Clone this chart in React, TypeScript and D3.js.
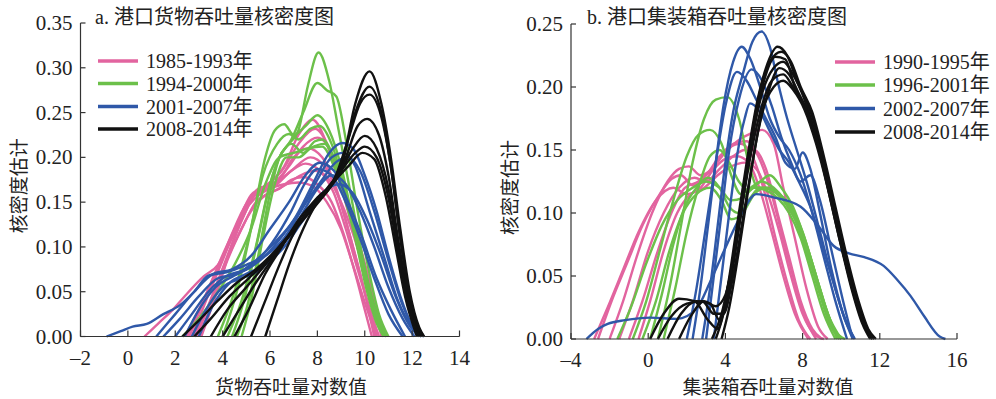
import React from "react";
import * as d3 from "d3";

type Pt = [number, number];

// ---------- Panel a: cargo throughput (log) kernel densities ----------
const cargoPink: Pt[][] = [
  [[2.9,0],[3.5,0.04],[4.2,0.09],[4.8,0.13],[5.4,0.16],[6.0,0.172],[6.6,0.19],[7.2,0.225],[7.8,0.242],[8.4,0.215],[8.9,0.175],[9.4,0.13],[9.9,0.08],[10.3,0.04],[10.8,0]],
  [[2.6,0],[3.2,0.04],[3.9,0.085],[4.6,0.125],[5.2,0.158],[5.8,0.168],[6.5,0.185],[7.2,0.215],[7.9,0.232],[8.5,0.21],[9.0,0.17],[9.5,0.125],[10.0,0.075],[10.4,0.035],[10.7,0]],
  [[3.1,0],[3.7,0.045],[4.3,0.095],[4.9,0.135],[5.5,0.165],[6.1,0.17],[6.8,0.19],[7.4,0.212],[8.0,0.222],[8.6,0.205],[9.1,0.165],[9.6,0.12],[10.1,0.072],[10.5,0.03],[10.9,0]],
  [[2.7,0],[3.3,0.04],[4.0,0.085],[4.6,0.125],[5.2,0.155],[5.8,0.165],[6.4,0.175],[7.0,0.2],[7.6,0.21],[8.2,0.2],[8.8,0.165],[9.3,0.12],[9.8,0.07],[10.2,0.03],[10.5,0]],
  [[0.7,0],[1.3,0.015],[1.9,0.03],[2.4,0.045],[3.2,0.067],[3.8,0.08],[4.4,0.11],[5.0,0.145],[5.6,0.165],[6.2,0.17],[6.9,0.185],[7.7,0.2],[8.3,0.19],[8.9,0.155],[9.4,0.11],[9.9,0.06],[10.4,0]],
  [[2.5,0],[3.1,0.035],[3.8,0.075],[4.4,0.115],[5.0,0.148],[5.6,0.162],[6.2,0.168],[6.9,0.185],[7.5,0.193],[8.1,0.185],[8.7,0.16],[9.2,0.12],[9.7,0.075],[10.2,0.032],[10.6,0]],
  [[3.0,0],[3.6,0.04],[4.2,0.085],[4.8,0.12],[5.4,0.15],[6.0,0.16],[6.7,0.17],[7.3,0.18],[7.9,0.185],[8.5,0.175],[9.0,0.15],[9.5,0.115],[10.0,0.07],[10.4,0.03],[10.8,0]],
  [[2.8,0],[3.4,0.035],[4.0,0.075],[4.6,0.11],[5.2,0.14],[5.8,0.158],[6.4,0.165],[6.9,0.175],[7.4,0.178],[8.0,0.17],[8.6,0.15],[9.1,0.115],[9.6,0.07],[10.0,0.03],[10.3,0]],
  [[2.4,0],[3.0,0.03],[3.6,0.065],[4.2,0.1],[4.8,0.135],[5.4,0.155],[6.0,0.165],[6.6,0.17],[7.2,0.172],[7.8,0.168],[8.4,0.15],[9.0,0.12],[9.5,0.08],[10.0,0.038],[10.5,0]],
];
const cargoGreen: Pt[][] = [
  [[4.6,0],[5.0,0.03],[5.5,0.09],[6.0,0.16],[6.4,0.2],[6.8,0.215],[7.2,0.23],[7.6,0.28],[8.05,0.317],[8.5,0.285],[8.9,0.23],[9.4,0.16],[9.9,0.09],[10.4,0.035],[10.9,0]],
  [[4.2,0],[4.8,0.04],[5.4,0.1],[5.9,0.16],[6.4,0.2],[6.9,0.22],[7.4,0.25],[8.0,0.283],[8.4,0.275],[8.8,0.268],[9.2,0.22],[9.7,0.14],[10.2,0.07],[10.6,0.025],[11.0,0]],
  [[4.0,0],[4.6,0.05],[5.2,0.12],[5.8,0.2],[6.2,0.23],[6.6,0.237],[7.0,0.225],[7.5,0.235],[8.0,0.247],[8.5,0.23],[9.0,0.19],[9.5,0.13],[10.0,0.07],[10.5,0.02],[10.8,0]],
  [[3.8,0],[4.5,0.05],[5.1,0.11],[5.7,0.18],[6.3,0.215],[6.8,0.226],[7.2,0.22],[7.7,0.232],[8.1,0.235],[8.6,0.215],[9.1,0.17],[9.6,0.11],[10.1,0.05],[10.5,0.015],[10.8,0]],
  [[4.4,0],[4.9,0.04],[5.5,0.11],[6.0,0.17],[6.5,0.205],[6.9,0.215],[7.4,0.205],[7.9,0.218],[8.2,0.22],[8.7,0.2],[9.2,0.16],[9.7,0.1],[10.2,0.045],[10.6,0.01],[10.9,0]],
  [[2.3,0],[3.0,0.02],[3.8,0.05],[4.5,0.08],[5.2,0.12],[5.8,0.17],[6.4,0.2],[7.0,0.205],[7.6,0.21],[8.2,0.212],[8.7,0.19],[9.2,0.15],[9.8,0.09],[10.3,0.04],[10.8,0]],
  [[4.8,0],[5.2,0.04],[5.7,0.11],[6.2,0.17],[6.7,0.2],[7.2,0.2],[7.7,0.21],[8.3,0.215],[8.8,0.19],[9.3,0.15],[9.8,0.09],[10.3,0.04],[10.9,0]],
];
const cargoBlue: Pt[][] = [
  [[-0.9,0],[-0.3,0.006],[0.2,0.011],[0.8,0.014],[1.5,0.025],[2.2,0.035],[2.8,0.05],[3.4,0.068],[4.2,0.072],[5.0,0.08],[5.8,0.09],[6.6,0.11],[7.3,0.14],[8.0,0.175],[8.6,0.2],[9.1,0.205],[9.6,0.19],[10.2,0.14],[10.8,0.09],[11.4,0.04],[12.0,0.01],[12.4,0]],
  [[1.5,0],[2.2,0.02],[3.0,0.045],[3.8,0.065],[4.6,0.07],[5.4,0.085],[6.2,0.105],[7.0,0.13],[7.8,0.17],[8.5,0.205],[9.05,0.216],[9.5,0.21],[10.0,0.18],[10.5,0.14],[11.0,0.09],[11.5,0.045],[12.0,0.012],[12.4,0]],
  [[2.0,0],[2.7,0.025],[3.4,0.05],[4.2,0.068],[5.0,0.075],[5.8,0.09],[6.6,0.115],[7.4,0.145],[8.2,0.175],[8.8,0.195],[9.3,0.2],[9.8,0.185],[10.4,0.14],[11.0,0.085],[11.6,0.035],[12.1,0.008],[12.5,0]],
  [[1.2,0],[2.0,0.025],[2.8,0.05],[3.6,0.07],[4.4,0.075],[5.2,0.09],[6.0,0.12],[6.8,0.15],[7.5,0.18],[8.1,0.194],[8.7,0.185],[9.3,0.15],[9.9,0.11],[10.5,0.065],[11.1,0.03],[11.7,0]],
  [[2.4,0],[3.0,0.03],[3.7,0.055],[4.5,0.068],[5.3,0.08],[6.1,0.105],[6.9,0.14],[7.5,0.172],[8.0,0.187],[8.6,0.18],[9.2,0.15],[9.8,0.11],[10.4,0.065],[11.0,0.025],[11.6,0]],
  [[2.7,0],[3.3,0.03],[4.0,0.055],[4.8,0.065],[5.6,0.075],[6.4,0.1],[7.2,0.13],[8.0,0.165],[8.6,0.18],[9.2,0.17],[9.8,0.14],[10.4,0.1],[11.0,0.055],[11.6,0.02],[12.1,0]],
  [[3.0,0],[3.6,0.035],[4.3,0.06],[5.0,0.07],[5.8,0.08],[6.6,0.1],[7.4,0.13],[8.2,0.16],[8.9,0.17],[9.5,0.16],[10.1,0.13],[10.7,0.09],[11.3,0.045],[11.9,0.012],[12.3,0]],
];
const cargoBlack: Pt[][] = [
  [[5.8,0],[6.3,0.04],[6.8,0.08],[7.4,0.12],[8.0,0.15],[8.6,0.17],[9.1,0.2],[9.6,0.26],[10.2,0.296],[10.7,0.26],[11.1,0.2],[11.5,0.12],[11.9,0.05],[12.3,0.01],[12.5,0]],
  [[5.2,0],[5.8,0.04],[6.4,0.08],[7.0,0.115],[7.7,0.145],[8.4,0.165],[9.0,0.19],[9.6,0.25],[10.2,0.279],[10.7,0.25],[11.1,0.19],[11.5,0.11],[11.9,0.045],[12.3,0.008],[12.5,0]],
  [[4.5,0],[5.1,0.03],[5.8,0.07],[6.5,0.1],[7.2,0.13],[8.0,0.155],[8.7,0.175],[9.3,0.22],[9.8,0.26],[10.2,0.27],[10.7,0.245],[11.1,0.19],[11.5,0.11],[11.9,0.045],[12.4,0]],
  [[4.0,0],[4.7,0.03],[5.4,0.06],[6.2,0.09],[7.0,0.12],[7.8,0.145],[8.5,0.165],[9.2,0.2],[9.7,0.235],[10.1,0.243],[10.6,0.225],[11.0,0.18],[11.4,0.11],[11.8,0.05],[12.3,0]],
  [[3.5,0],[4.2,0.03],[5.0,0.055],[5.8,0.08],[6.6,0.105],[7.4,0.13],[8.2,0.155],[8.9,0.18],[9.5,0.21],[10.0,0.224],[10.5,0.21],[11.0,0.165],[11.4,0.1],[11.8,0.045],[12.3,0]],
  [[2.8,0],[3.5,0.02],[4.3,0.045],[5.1,0.065],[5.9,0.085],[6.7,0.11],[7.5,0.135],[8.3,0.16],[9.0,0.185],[9.6,0.205],[10.0,0.212],[10.5,0.2],[11.0,0.155],[11.4,0.095],[11.8,0.04],[12.3,0]],
  [[2.3,0],[3.0,0.018],[3.8,0.04],[4.6,0.06],[5.4,0.075],[6.2,0.095],[7.0,0.12],[7.8,0.145],[8.6,0.17],[9.3,0.19],[9.9,0.205],[10.4,0.198],[10.9,0.155],[11.3,0.1],[11.7,0.045],[12.2,0]],
];

// ---------- Panel b: container throughput (log) kernel densities ----------
const boxPink: Pt[][] = [
  [[-1.0,0],[-0.3,0.03],[0.5,0.07],[1.2,0.1],[1.9,0.12],[2.6,0.125],[3.3,0.135],[4.0,0.148],[4.7,0.158],[5.3,0.163],[5.9,0.166],[6.5,0.155],[7.0,0.12],[7.6,0.08],[8.2,0.04],[8.8,0.01],[9.3,0]],
  [[-2.0,0],[-1.3,0.03],[-0.6,0.065],[0.2,0.1],[1.0,0.125],[1.6,0.135],[2.1,0.137],[2.7,0.13],[3.3,0.135],[4.0,0.15],[4.6,0.156],[5.1,0.157],[5.7,0.145],[6.3,0.12],[6.9,0.085],[7.5,0.05],[8.1,0.018],[8.7,0]],
  [[-2.6,0],[-1.9,0.03],[-1.1,0.06],[-0.3,0.09],[0.6,0.115],[1.2,0.127],[1.7,0.13],[2.3,0.122],[3.0,0.13],[3.7,0.145],[4.3,0.153],[4.8,0.155],[5.4,0.145],[6.0,0.118],[6.6,0.08],[7.2,0.045],[7.8,0.015],[8.4,0]],
  [[-1.5,0],[-0.8,0.03],[0.0,0.07],[0.8,0.1],[1.6,0.12],[2.4,0.128],[3.0,0.125],[3.7,0.135],[4.4,0.145],[5.0,0.15],[5.5,0.15],[6.1,0.135],[6.7,0.1],[7.3,0.065],[7.9,0.03],[8.5,0.008],[9.0,0]],
  [[-2.8,0],[-2.1,0.025],[-1.3,0.055],[-0.5,0.085],[0.4,0.11],[1.3,0.12],[2.0,0.115],[2.7,0.12],[3.4,0.135],[4.0,0.143],[4.6,0.145],[5.2,0.14],[5.8,0.118],[6.4,0.085],[7.0,0.05],[7.6,0.02],[8.3,0]],
  [[-0.5,0],[0.1,0.03],[0.8,0.07],[1.5,0.1],[2.2,0.115],[2.9,0.12],[3.6,0.13],[4.3,0.137],[5.0,0.14],[5.6,0.135],[6.2,0.115],[6.8,0.085],[7.4,0.05],[8.0,0.02],[8.6,0.004],[9.1,0]],
];
const boxGreen: Pt[][] = [
  [[0.5,0],[1.1,0.04],[1.7,0.09],[2.3,0.14],[2.9,0.175],[3.5,0.19],[4.1,0.192],[4.7,0.175],[5.2,0.14],[5.7,0.12],[6.2,0.12],[6.8,0.115],[7.4,0.105],[8.0,0.085],[8.6,0.055],[9.2,0.025],[9.8,0]],
  [[-0.8,0],[-0.1,0.03],[0.6,0.07],[1.3,0.11],[2.0,0.145],[2.6,0.162],[3.2,0.166],[3.8,0.155],[4.3,0.13],[4.8,0.115],[5.3,0.12],[5.9,0.125],[6.5,0.12],[7.1,0.11],[7.7,0.095],[8.3,0.07],[8.9,0.04],[9.5,0.012],[10.0,0]],
  [[-1.6,0],[-0.9,0.025],[-0.1,0.06],[0.7,0.09],[1.5,0.11],[2.3,0.12],[3.0,0.125],[3.7,0.12],[4.3,0.11],[4.9,0.112],[5.5,0.12],[6.1,0.118],[6.7,0.112],[7.3,0.1],[7.9,0.08],[8.5,0.05],[9.1,0.02],[9.7,0]],
  [[0.1,0],[0.7,0.035],[1.3,0.075],[1.9,0.105],[2.5,0.12],[3.1,0.128],[3.7,0.12],[4.2,0.105],[4.7,0.1],[5.2,0.11],[5.8,0.12],[6.4,0.118],[7.0,0.11],[7.6,0.095],[8.2,0.07],[8.8,0.04],[9.4,0.012],[9.9,0]],
  [[0.8,0],[1.4,0.04],[2.0,0.085],[2.6,0.12],[3.2,0.145],[3.7,0.15],[4.2,0.14],[4.7,0.125],[5.2,0.118],[5.8,0.125],[6.3,0.13],[6.9,0.12],[7.5,0.105],[8.1,0.08],[8.7,0.05],[9.3,0.02],[10.0,0]],
  [[-0.3,0],[0.4,0.03],[1.1,0.07],[1.8,0.1],[2.5,0.115],[3.2,0.12],[3.8,0.11],[4.3,0.095],[4.9,0.1],[5.5,0.115],[6.1,0.12],[6.7,0.115],[7.3,0.105],[7.9,0.085],[8.5,0.058],[9.1,0.028],[9.7,0.006],[10.2,0]],
];
const boxBlue: Pt[][] = [
  [[2.8,0],[3.2,0.04],[3.6,0.09],[4.0,0.14],[4.4,0.18],[4.9,0.21],[5.4,0.236],[5.88,0.244],[6.3,0.232],[6.7,0.205],[7.2,0.175],[7.7,0.15],[8.3,0.12],[8.9,0.085],[9.5,0.05],[10.1,0.02],[10.7,0]],
  [[2.3,0],[2.7,0.04],[3.1,0.09],[3.5,0.14],[3.9,0.185],[4.4,0.22],[4.84,0.232],[5.3,0.222],[5.8,0.2],[6.3,0.175],[6.8,0.16],[7.3,0.15],[7.9,0.13],[8.5,0.1],[9.1,0.065],[9.7,0.03],[10.3,0]],
  [[2.0,0],[2.5,0.04],[3.0,0.09],[3.5,0.14],[4.0,0.185],[4.6,0.212],[5.1,0.205],[5.6,0.19],[6.1,0.175],[6.6,0.16],[7.1,0.14],[7.6,0.135],[8.0,0.148],[8.4,0.135],[8.9,0.1],[9.5,0.055],[10.1,0.02],[10.6,0]],
  [[3.0,0],[3.4,0.05],[3.8,0.1],[4.2,0.15],[4.7,0.19],[5.36,0.214],[5.9,0.205],[6.4,0.185],[6.9,0.16],[7.4,0.14],[7.9,0.125],[8.4,0.13],[8.9,0.11],[9.5,0.07],[10.1,0.03],[10.6,0]],
  [[3.4,0],[3.8,0.05],[4.2,0.1],[4.6,0.145],[5.0,0.175],[5.27,0.187],[5.8,0.18],[6.3,0.165],[6.8,0.15],[7.3,0.14],[7.8,0.125],[8.4,0.105],[9.0,0.075],[9.6,0.045],[10.2,0.015],[10.7,0]],
  [[-3.2,0],[-2.6,0.008],[-2.1,0.012],[-1.2,0.015],[0.1,0.017],[1.5,0.016],[2.5,0.024],[3.2,0.045],[3.9,0.069],[4.7,0.095],[5.6,0.115],[6.6,0.112],[7.9,0.105],[8.8,0.09],[9.6,0.074],[10.4,0.068],[11.2,0.065],[12.2,0.058],[12.9,0.047],[13.6,0.034],[14.3,0.018],[15.1,0.002],[15.4,0]],
];
const boxBlack: Pt[][] = [
  [[0.1,0],[0.8,0.02],[1.6,0.032],[2.4,0.03],[3.1,0.015],[3.6,0.008],[4.1,0.04],[4.6,0.09],[5.1,0.14],[5.6,0.185],[6.1,0.215],[6.7,0.232],[7.2,0.225],[7.7,0.205],[8.3,0.185],[8.9,0.155],[9.5,0.115],[10.1,0.075],[10.7,0.038],[11.2,0.01],[11.6,0]],
  [[1.0,0],[1.7,0.02],[2.5,0.03],[3.2,0.028],[3.7,0.015],[4.2,0.04],[4.7,0.09],[5.2,0.145],[5.7,0.19],[6.3,0.22],[6.9,0.228],[7.4,0.22],[7.9,0.2],[8.5,0.18],[9.1,0.145],[9.7,0.105],[10.3,0.065],[10.9,0.03],[11.4,0.008],[11.8,0]],
  [[1.6,0],[2.2,0.018],[2.9,0.03],[3.5,0.026],[4.0,0.035],[4.5,0.07],[5.0,0.12],[5.5,0.17],[6.0,0.205],[6.6,0.224],[7.1,0.222],[7.6,0.2],[8.2,0.182],[8.8,0.155],[9.4,0.115],[10.0,0.075],[10.6,0.038],[11.2,0.01],[11.6,0]],
  [[3.5,0],[3.9,0.02],[4.4,0.06],[4.9,0.11],[5.4,0.16],[5.9,0.195],[6.5,0.215],[7.0,0.22],[7.5,0.21],[8.1,0.19],[8.7,0.16],[9.3,0.12],[9.9,0.08],[10.5,0.042],[11.1,0.012],[11.5,0]],
  [[3.8,0],[4.2,0.025],[4.7,0.07],[5.2,0.12],[5.7,0.165],[6.2,0.195],[6.8,0.215],[7.3,0.21],[7.8,0.195],[8.4,0.175],[9.0,0.145],[9.6,0.105],[10.2,0.065],[10.8,0.03],[11.3,0.008],[11.7,0]],
  [[3.3,0],[3.8,0.02],[4.3,0.055],[4.8,0.1],[5.3,0.145],[5.8,0.18],[6.4,0.205],[7.0,0.21],[7.5,0.2],[8.1,0.185],[8.7,0.16],[9.3,0.125],[9.9,0.085],[10.5,0.045],[11.1,0.015],[11.6,0]],
  [[0.5,0],[1.2,0.018],[2.0,0.028],[2.8,0.03],[3.4,0.02],[3.9,0.02],[4.4,0.05],[4.9,0.095],[5.4,0.14],[5.9,0.18],[6.5,0.2],[7.0,0.205],[7.5,0.198],[8.1,0.182],[8.7,0.155],[9.3,0.12],[9.9,0.08],[10.5,0.045],[11.1,0.015],[11.7,0]],
];

const cargoLegend = ["1985-1993年", "1994-2000年", "2001-2007年", "2008-2014年"];
const boxLegend = ["1990-1995年", "1996-2001年", "2002-2007年", "2008-2014年"];
const cargoXTicks = [-2, 0, 2, 4, 6, 8, 10, 12, 14];
const cargoYTicks = [0, 0.05, 0.1, 0.15, 0.2, 0.25, 0.3, 0.35];
const boxXTicks = [-4, 0, 4, 8, 12, 16];
const boxYTicks = [0, 0.05, 0.1, 0.15, 0.2, 0.25];

const COLORS = ["#e2649f", "#6cc04a", "#2f58a8", "#111111"];
const FONT = "'Liberation Serif', 'Noto Sans CJK SC', serif";
const CJK = "'Noto Sans CJK SC', 'Liberation Serif', serif";

type PanelProps = {
  title: string;
  xLabel: string;
  groups: Pt[][][];
  legend: string[];
  xDomain: [number, number];
  yDomain: [number, number];
  xRange: [number, number];
  yRange: [number, number];
  xTicks: number[];
  yTicks: number[];
  titleX: number;
  xLabelX: number;
  yLabelX: number;
  legendX: number;
  legendY: number[];
};

function fmtX(v: number) {
  return v < 0 ? "\u2013" + Math.abs(v) : String(v);
}

function Panel(p: PanelProps) {
  const x = d3.scaleLinear().domain(p.xDomain).range(p.xRange);
  const y = d3.scaleLinear().domain(p.yDomain).range(p.yRange);
  const line = d3
    .line<Pt>()
    .x((d) => x(d[0]))
    .y((d) => y(d[1]))
    .curve(d3.curveMonotoneX);
  const [x0, x1] = p.xRange;
  const [yb, yt] = p.yRange;
  const yMid = (yb + yt) / 2 + 6;
  return (
    <g>
      <g>
        {p.groups.map((g, gi) =>
          g.map((c, ci) => (
            <path
              key={gi + "-" + ci}
              d={line(c) || ""}
              fill="none"
              stroke={COLORS[gi]}
              strokeWidth={2.4}
              strokeLinejoin="round"
            />
          ))
        )}
      </g>
      <line x1={x0} x2={x0} y1={yb} y2={yt} stroke="#333" strokeWidth={1.2} />
      <line x1={x0} x2={x1} y1={yb} y2={yb} stroke="#333" strokeWidth={1.2} />
      {p.yTicks.map((t) => (
        <g key={"y" + t}>
          <line x1={x0} x2={x0 + 5} y1={y(t)} y2={y(t)} stroke="#333" strokeWidth={1.2} />
          <text x={x0 - 8} y={y(t) + 7} textAnchor="end" fontSize={21} fontFamily={FONT} fill="#222">
            {t.toFixed(2)}
          </text>
        </g>
      ))}
      {p.xTicks.map((t) => (
        <g key={"x" + t}>
          <line x1={x(t)} x2={x(t)} y1={yb} y2={yb - 6} stroke="#333" strokeWidth={1.2} />
          <text x={x(t)} y={yb + 28} textAnchor="middle" fontSize={21} fontFamily={FONT} fill="#222">
            {fmtX(t)}
          </text>
        </g>
      ))}
      <text x={p.titleX} y={24} fontSize={20} fontFamily={FONT} fill="#222">
        <tspan fontFamily={FONT}>{p.title.slice(0, 3)}</tspan>
        <tspan fontFamily={CJK}>{p.title.slice(3)}</tspan>
      </text>
      <text x={p.xLabelX} y={394} textAnchor="middle" fontSize={19} fontFamily={CJK} fill="#222">
        {p.xLabel}
      </text>
      <text
        transform={`translate(${p.yLabelX},${yMid}) rotate(-90)`}
        textAnchor="middle"
        fontSize={19}
        fontFamily={CJK}
        fill="#222"
      >
        核密度估计
      </text>
      {p.legend.map((l, i) => (
        <g key={l}>
          <line
            x1={p.legendX}
            x2={p.legendX + 40}
            y1={p.legendY[i]}
            y2={p.legendY[i]}
            stroke={COLORS[i]}
            strokeWidth={3.4}
          />
          <text x={p.legendX + 48} y={p.legendY[i] + 7} fontSize={20} fontFamily={FONT} fill="#222">
            {l}
          </text>
        </g>
      ))}
    </g>
  );
}

export default function App() {
  return (
    <svg
      width={996}
      height={399}
      style={{ position: "absolute", left: 0, top: 0, background: "#fff" }}
    >
      <rect width={996} height={399} fill="#fff" />
      <Panel
        title="a. 港口货物吞吐量核密度图"
        xLabel="货物吞吐量对数值"
        groups={[cargoPink, cargoGreen, cargoBlue, cargoBlack]}
        legend={cargoLegend}
        xDomain={[-2, 14]}
        yDomain={[0, 0.35]}
        xRange={[80.5, 459.5]}
        yRange={[336.5, 23]}
        xTicks={cargoXTicks}
        yTicks={cargoYTicks}
        titleX={95}
        xLabelX={291}
        yLabelX={26}
        legendX={98}
        legendY={[61, 83.5, 106.5, 129]}
      />
      <Panel
        title="b. 港口集装箱吞吐量核密度图"
        xLabel="集装箱吞吐量对数值"
        groups={[boxPink, boxGreen, boxBlue, boxBlack]}
        legend={boxLegend}
        xDomain={[-4, 16]}
        yDomain={[0, 0.25]}
        xRange={[571, 957]}
        yRange={[339, 24]}
        xTicks={boxXTicks}
        yTicks={boxYTicks}
        titleX={587}
        xLabelX={768}
        yLabelX={517}
        legendX={835}
        legendY={[62, 85, 108.5, 132]}
      />
    </svg>
  );
}
